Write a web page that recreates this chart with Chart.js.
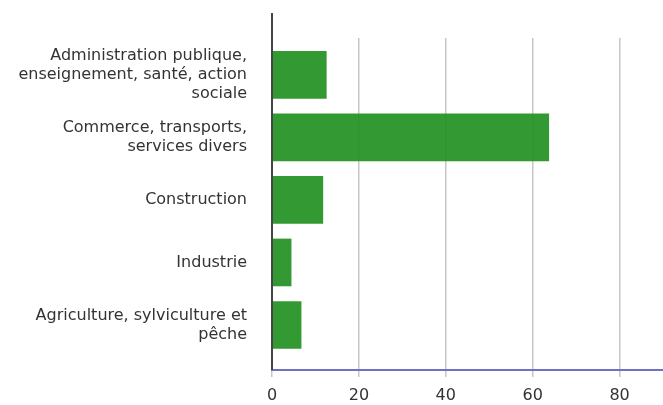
<!DOCTYPE html>
<html>
<head>
<meta charset="utf-8">
<script src="https://cdn.jsdelivr.net/npm/chart.js@4"></script>
<style>
    html, body { margin: 0; padding: 0; background: #ffffff; }
    #wrap { width: 663px; height: 405px; }
</style>
</head>
<body>
<div id="wrap"><canvas id="chart" width="663" height="405"></canvas></div>
<script>
// Répartition par secteur d'activité (%)
const categories = [
    ['Administration publique,', 'enseignement, santé, action', 'sociale'],
    ['Commerce, transports,', 'services divers'],
    ['Construction'],
    ['Industrie'],
    ['Agriculture, sylviculture et', 'pêche']
];
const values = [12.5, 63.7, 11.7, 4.4, 6.7];
const xTicks = [0, 20, 40, 60, 80];

const textColor = '#333333';
const barColor = 'rgba(34, 145, 34, 0.92)';

// left axis line runs higher than the grid in the original
const leftAxisTop = {
    id: 'leftAxisTop',
    afterDraw(chart) {
        const ctx = chart.ctx;
        const yScale = chart.scales.y;
        const x = Math.round(yScale.right);
        ctx.save();
        ctx.strokeStyle = '#444444';
        ctx.lineWidth = 2;
        ctx.beginPath();
        ctx.moveTo(x, 13);
        ctx.lineTo(x, chart.chartArea.bottom);
        ctx.stroke();
        ctx.restore();
    }
};

const ctx = document.getElementById('chart').getContext('2d');
new Chart(ctx, {
    type: 'bar',
    data: {
        datasets: [{
            label: 'Part (%)',
            data: values.map((v, i) => ({ x: v, y: i })),
            backgroundColor: barColor,
            borderWidth: 0,
            barThickness: 47
        }]
    },
    options: {
        indexAxis: 'y',
        responsive: false,
        animation: false,
        layout: { padding: { top: 38, right: 0, left: 0, bottom: 0 } },
        scales: {
            x: {
                type: 'linear',
                min: 0,
                max: 90,
                afterBuildTicks: function(scale) {
                    scale.ticks = xTicks.map(v => ({ value: v }));
                },
                afterFit: function(scale) {
                    scale.height = 35;
                },
                grid: {
                    color: '#c6c6c6',
                    lineWidth: 1.5,
                    tickLength: 7
                },
                border: {
                    color: '#7070c4',
                    width: 2
                },
                ticks: {
                    color: textColor,
                    padding: 9,
                    font: { family: 'DejaVu Sans', size: 16 }
                }
            },
            y: {
                type: 'linear',
                reverse: true,
                offset: false,
                min: -0.59,
                max: 4.72,
                afterBuildTicks: function(scale) {
                    scale.ticks = categories.map((c, i) => ({ value: i }));
                },
                afterFit: function(scale) {
                    scale.width = 272;
                },
                grid: {
                    display: true,
                    drawOnChartArea: false,
                    drawTicks: true,
                    tickLength: 22,
                    color: 'rgba(0, 0, 0, 0)'
                },
                border: {
                    display: false
                },
                ticks: {
                    color: textColor,
                    padding: 3,
                    font: { family: 'DejaVu Sans', size: 16, lineHeight: 1.2 },
                    callback: function(value) {
                        return categories[value];
                    }
                }
            }
        },
        plugins: {
            legend: { display: false },
            tooltip: {
                callbacks: {
                    label: function(context) {
                        return `${context.raw.x} %`;
                    }
                }
            }
        }
    },
    plugins: [leftAxisTop]
});
</script>
</body>
</html>
